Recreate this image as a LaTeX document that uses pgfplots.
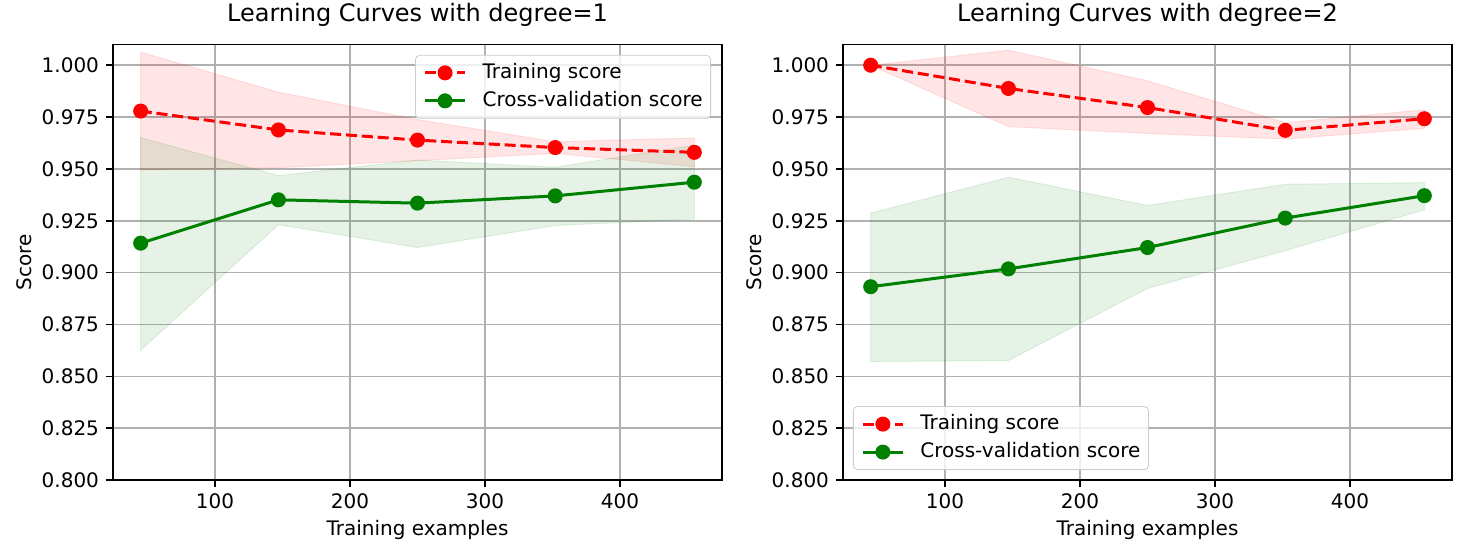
\documentclass[border=0pt]{standalone}
\usepackage{fontspec}
\setmainfont{DejaVu Sans}
\usepackage{pgfplots}
\pgfplotsset{compat=1.18}

\definecolor{mplred}{HTML}{FF0000}
\definecolor{mplgreen}{HTML}{008000}
\definecolor{gridgray}{HTML}{B0B0B0}

\pgfplotsset{
  lcurve/.style={
    scale only axis,
    width=304.5bp, height=217.75bp,
    anchor=south west,
    xmin=24.5, xmax=475.5,
    ymin=0.8, ymax=1.01,
    xtick={100,200,300,400},
    ytick={0.8,0.825,0.85,0.875,0.9,0.925,0.95,0.975,1.0},
    yticklabel style={/pgf/number format/.cd, fixed, fixed zerofill, precision=3},
    /pgf/number format/assume math mode=true,
    tick label style={font=\fontsize{10bp}{12bp}\selectfont},
    label style={font=\fontsize{10bp}{12bp}\selectfont},
    title style={font=\fontsize{12bp}{14bp}\selectfont,
      at={(axis description cs:0.5,1.0253)}, anchor=base},
    xlabel={Training examples},
    ylabel={Score},
    xlabel style={at={(axis description cs:0.5,-0.1263)}, anchor=base},
    ylabel style={at={(axis description cs:-0.1335,0.5)}, anchor=base},
    tick align=outside,
    tick pos=left,
    major tick length=3.5bp,
    every tick/.style={black, line width=0.8bp},
    axis line style={line width=0.8bp},
    grid=major,
    major grid style={gridgray, line width=0.8bp},
    legend cell align=left,
    legend style={font=\fontsize{10bp}{12bp}\selectfont, draw=black!20,
      rounded corners=2bp, fill=white, fill opacity=0.8, text opacity=1,
      inner xsep=4bp, inner ysep=4bp, row sep=4.5bp,
      nodes={inner sep=0pt, text height=7.5bp, text depth=2bp},
      /tikz/every odd column/.append style={column sep=8bp}},
    legend image code/.code={
      \draw[fill opacity=1, draw opacity=1, mark repeat=2, mark phase=2]
        plot coordinates {(0bp,0bp) (10bp,0bp) (20bp,0bp)};
    },
  },
  train/.style={mplred, line width=1.5bp, dash pattern=on 5.55bp off 2.4bp,
    mark=*, mark size=3bp, mark options={solid, draw=none, fill=mplred}},
  cv/.style={mplgreen, line width=1.5bp,
    mark=*, mark size=3bp, mark options={solid, draw=none, fill=mplgreen}},
  bandr/.style={forget plot, fill=mplred, fill opacity=0.1, draw=mplred, draw opacity=0.1, line width=0.5bp},
  bandg/.style={forget plot, fill=mplgreen, fill opacity=0.1, draw=mplgreen, draw opacity=0.1, line width=0.5bp},
}

\begin{document}
\begin{tikzpicture}
\path[use as bounding box] (0,0) rectangle (735bp,277bp);

% degree = 1
\begin{axis}[lcurve, at={(56.5bp,37bp)},
  title={Learning Curves with degree=1},
  legend style={at={(0.982,0.976)}, anchor=north east}]
\addplot[bandr] coordinates {
  (45,1.0063)(147,0.9870)(250,0.9738)(352,0.9631)(455,0.9649)
  (455,0.9511)(352,0.9575)(250,0.9540)(147,0.9506)(45,0.9495)} -- cycle;
\addplot[bandg] coordinates {
  (45,0.9651)(147,0.9468)(250,0.9543)(352,0.9508)(455,0.9615)
  (455,0.9258)(352,0.9227)(250,0.9121)(147,0.9231)(45,0.8626)} -- cycle;
\addplot[train] coordinates {
  (45,0.9779)(147,0.9688)(250,0.9639)(352,0.9603)(455,0.9580)};
\addplot[cv] coordinates {
  (45,0.9142)(147,0.9351)(250,0.9335)(352,0.9370)(455,0.9436)};
\legend{Training score, Cross-validation score}
\end{axis}

% degree = 2
\begin{axis}[lcurve, at={(421.5bp,37bp)},
  title={Learning Curves with degree=2},
  legend style={at={(0.0164,0.023)}, anchor=south west}]
\addplot[bandr] coordinates {
  (45,1.0000)(147,1.0072)(250,0.9925)(352,0.9723)(455,0.9785)
  (455,0.9696)(352,0.9644)(250,0.9671)(147,0.9704)(45,1.0000)} -- cycle;
\addplot[bandg] coordinates {
  (45,0.9287)(147,0.9460)(250,0.9324)(352,0.9426)(455,0.9434)
  (455,0.9303)(352,0.9106)(250,0.8924)(147,0.8576)(45,0.8571)} -- cycle;
\addplot[train] coordinates {
  (45,1.0000)(147,0.9888)(250,0.9796)(352,0.9686)(455,0.9742)};
\addplot[cv] coordinates {
  (45,0.8932)(147,0.9018)(250,0.9121)(352,0.9263)(455,0.9371)};
\legend{Training score, Cross-validation score}
\end{axis}
\end{tikzpicture}
\end{document}
